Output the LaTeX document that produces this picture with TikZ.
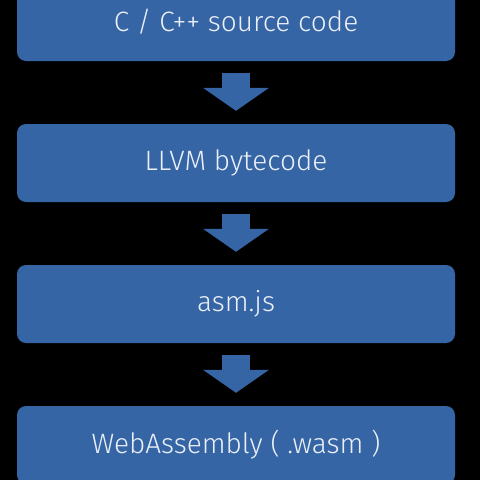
\documentclass[tikz,border=0pt]{standalone}
\usepackage{fontspec}
\setmainfont{Fira Sans}[UprightFont=* Light]
\usetikzlibrary{arrows.meta}
\definecolor{stepblue}{RGB}{53,101,165}
\definecolor{steptext}{RGB}{235,240,248}

\begin{document}
\begin{tikzpicture}[
    x=1pt, y=1pt, node distance=141pt,
    every node/.style={rectangle, rounded corners=9pt, fill=stepblue, text=steptext, minimum width=438pt, minimum height=78pt, font=\fontsize{28}{32}\selectfont},
    blockarrow/.style={draw=stepblue, line width=28pt, -{Triangle[length=23pt, width=66pt, line width=0pt]}, shorten <=12pt, shorten >=13pt}
]
\fill[black] (0,0) rectangle (480,-480);
\useasboundingbox (0,0) rectangle (480,-480);
\clip (0,0) rectangle (480,-480);
\node (source_code) at (236,-22) {C / C++ source code};
\node (llvm_bytecode) [below of=source_code] {LLVM bytecode};
\node (asm_js) [below of=llvm_bytecode] {asm.js};
\node (web_assembly) [below of=asm_js] {WebAssembly ( .wasm )};

\draw[blockarrow] (source_code) -- (llvm_bytecode);
\draw[blockarrow] (llvm_bytecode) -- (asm_js);
\draw[blockarrow] (asm_js) -- (web_assembly);
\end{tikzpicture}
\end{document}
